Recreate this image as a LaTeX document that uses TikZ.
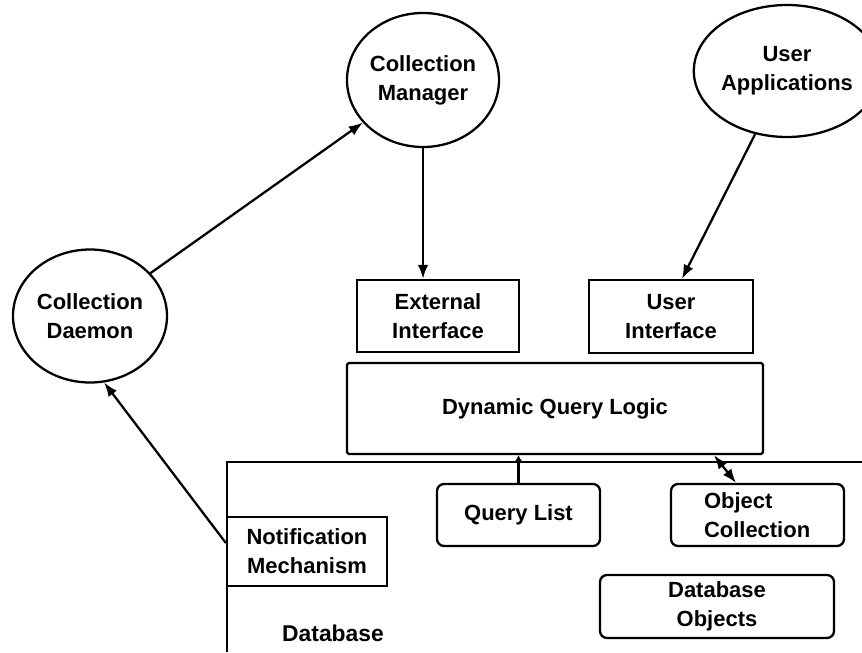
\documentclass[tikz,border=0pt]{standalone}
\usepackage{fontspec}
\setmainfont{Liberation Sans}
\usetikzlibrary{shapes.geometric,arrows.meta}
\begin{document}
\begin{tikzpicture}[line width=1.3pt, font=\fontsize{12.5pt}{16.5pt}\selectfont\bfseries,
    >={Latex[length=8pt,width=6pt]}]
    \useasboundingbox (0,0) rectangle (17.24,13.04);
    % Procesos
    \node[draw, ellipse, inner sep=0pt, minimum width=3.04cm, minimum height=2.68cm, align=center] (mgr) at (8.46,11.44) {Collection\\Manager};
    \node[draw, ellipse, inner sep=0pt, minimum width=2.96cm, minimum height=2.64cm, align=center] (app) at (15.74,11.62) {User\\Applications};
    \node[draw, ellipse, inner sep=0pt, minimum width=3.08cm, minimum height=2.66cm, align=center] (dmn) at (1.80,6.72) {Collection\\Daemon};
    % Interfaces
    \node[draw, minimum width=3.24cm, minimum height=1.44cm, align=center] (ext) at (8.76,6.72) {External\\Interface};
    \node[draw, minimum width=3.28cm, minimum height=1.46cm, align=center] (ui) at (13.42,6.71) {User\\Interface};
    \node[draw, rounded corners=1pt, minimum width=8.32cm, minimum height=1.82cm] (dql) at (11.10,4.87) {Dynamic Query Logic};
    % Base de datos
    \draw (4.54,0) -- (4.54,3.80) -- (17.24,3.80);
    \node[draw, rounded corners=4pt, minimum width=3.26cm, minimum height=1.24cm] (ql) at (10.37,2.74) {Query List};
    \node[draw, rounded corners=4pt, minimum width=3.46cm, minimum height=1.24cm, text width=2.14cm, align=left] (oc) at (15.15,2.74) {Object\\Collection};
    \node[draw, minimum width=3.20cm, minimum height=1.38cm, align=center] (nm) at (6.14,2.01) {Notification\\Mechanism};
    \node[draw, rounded corners=4pt, minimum width=4.68cm, minimum height=1.26cm, align=center] (dbo) at (14.34,0.91) {Database\\Objects};
    \node[font=\fontsize{13pt}{16pt}\selectfont\bfseries] (db) at (6.66,0.38) {Database};
    % Flechas
    \draw[->] (dmn) -- (mgr);
    \draw[->] (mgr.south) -- (mgr.south |- ext.north);
    \draw[->] (app) -- ([xshift=0.22cm]ui.north);
    \draw[->] ([yshift=0.17cm]nm.west) -- (dmn.282);
    \draw[-{Latex[length=4pt,width=5pt]}] (ql.north) -- (ql.north |- dql.south);
    \draw[<->] ([xshift=3.18cm]dql.south) -- ([xshift=-0.43cm]oc.north);
\end{tikzpicture}
\end{document}
